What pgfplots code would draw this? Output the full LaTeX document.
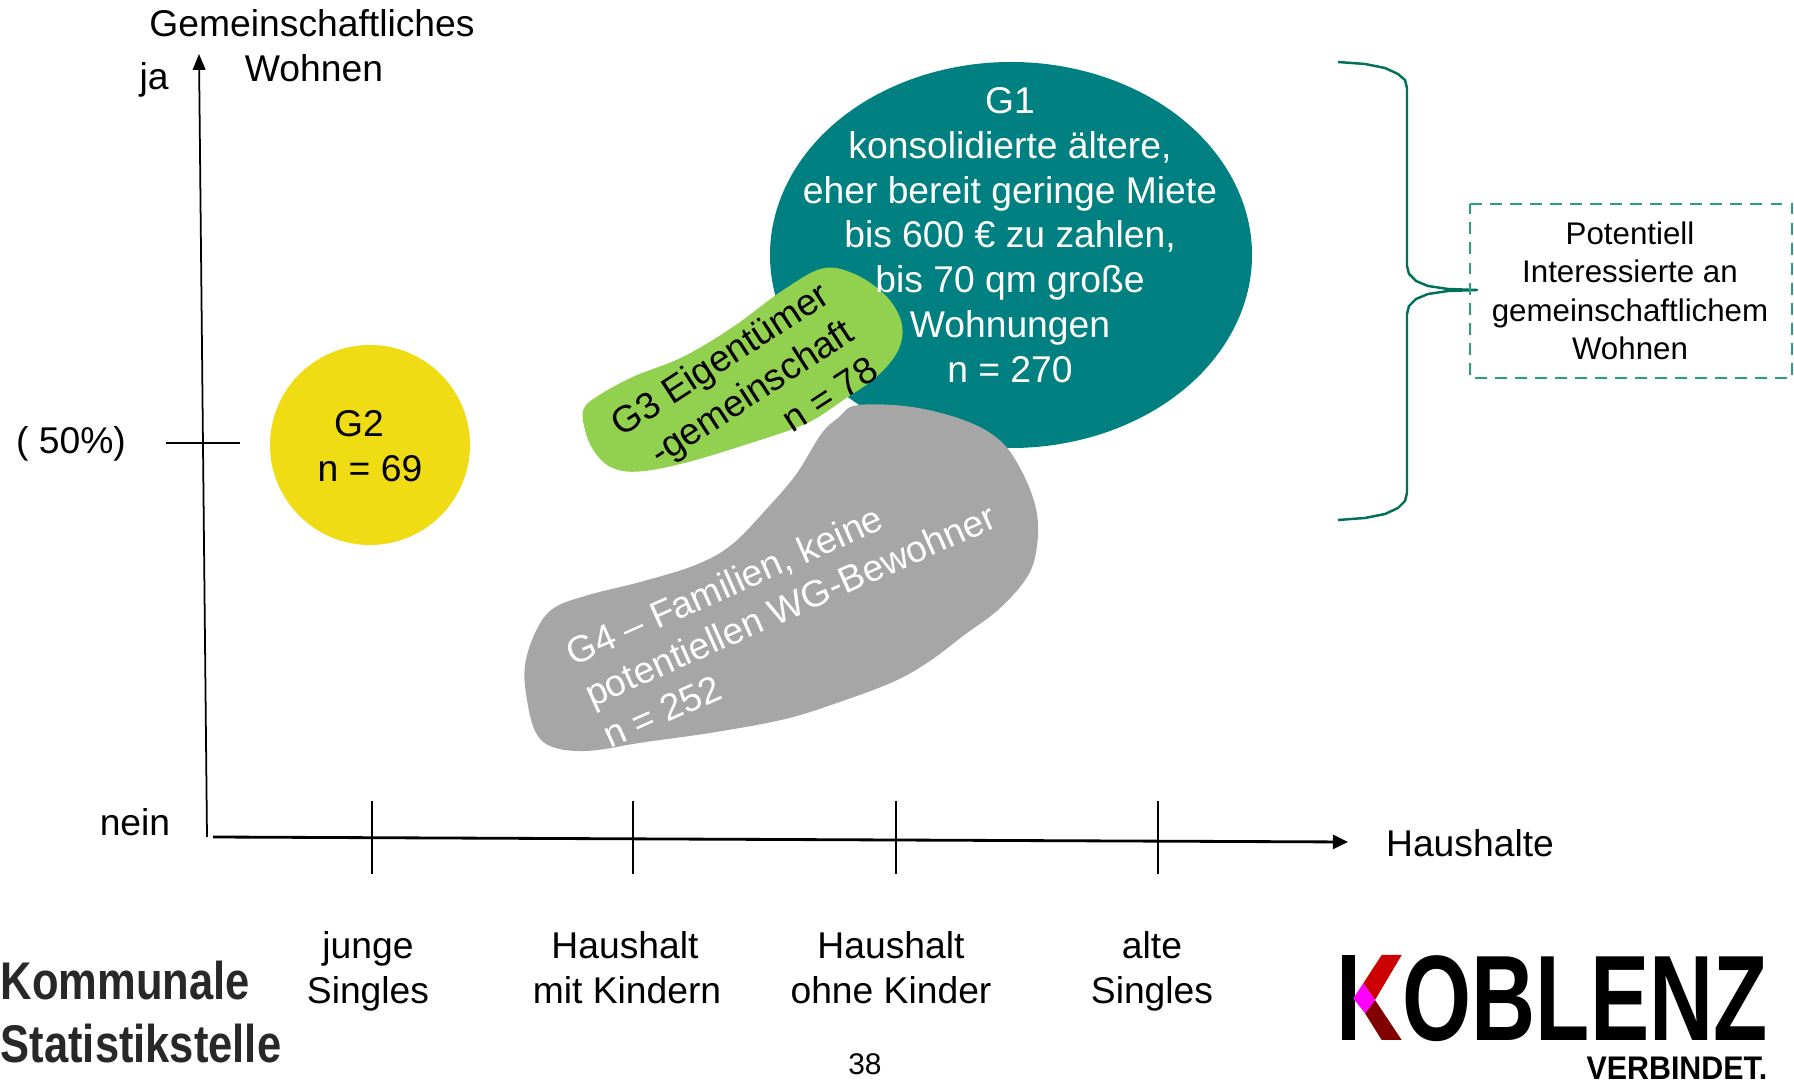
\documentclass[border=0pt]{standalone}
\usepackage{fontspec}
\setmainfont{Liberation Sans}
\newfontfamily\komfont[FakeStretch=0.82]{Liberation Sans}
\newfontfamily\kobfont[FakeStretch=0.73]{Liberation Sans}
\newfontfamily\verfont[FakeStretch=0.93]{Liberation Sans}
\usepackage{pgfplots}
\pgfplotsset{compat=1.18}
\usetikzlibrary{arrows.meta}
\definecolor{gteal}{RGB}{0,128,128}
\definecolor{ggreen}{RGB}{146,208,80}
\definecolor{ggrey}{RGB}{166,166,166}
\definecolor{gyellow}{RGB}{240,220,20}
\definecolor{bracecol}{RGB}{0,112,90}
\definecolor{boxcol}{RGB}{40,160,120}
\definecolor{kred}{RGB}{204,0,0}
\definecolor{kdred}{RGB}{128,0,0}
\definecolor{kpink}{RGB}{255,0,255}
\definecolor{komgray}{RGB}{40,40,40}
\newcommand\mf{\fontsize{10.6}{12.75}\selectfont}
\begin{document}
\begin{tikzpicture}
\begin{axis}[scale only axis, width=17.94cm, height=10.83cm,
  xmin=0, xmax=1794, ymin=0, ymax=1083, y dir=reverse,
  hide axis, clip=false]
% G1 teal ellipse
\addplot[fill=gteal, draw=none, smooth cycle, tension=0.62] coordinates {
 (1252,255)(1243.8,304.9)(1219.7,351.5)(1181.4,391.5)(1131.5,422.1)(1073.4,441.4)
 (1011,448)(948.6,441.4)(890.5,422.1)(840.6,391.5)(802.3,351.5)(778.2,304.9)
 (770,255)(778.2,205.1)(802.3,158.5)(840.6,118.5)(890.5,87.9)(948.6,68.6)
 (1011,62)(1073.4,68.6)(1131.5,87.9)(1181.4,118.5)(1219.7,158.5)(1243.8,205.1)};
% G2 yellow circle
\addplot[fill=gyellow, draw=none, smooth cycle, tension=0.62] coordinates {
 (470,445)(466.6,470.9)(456.6,495)(440.7,515.7)(420,531.6)(395.9,541.6)
 (370,545)(344.1,541.6)(320,531.6)(299.3,515.7)(283.4,495)(273.4,470.9)
 (270,445)(273.4,419.1)(283.4,395)(299.3,374.3)(320,358.4)(344.1,348.4)
 (370,345)(395.9,348.4)(420,358.4)(440.7,374.3)(456.6,395)(466.6,419.1)};
% G3 green blob
\addplot[fill=ggreen, draw=none, smooth cycle, tension=0.6] coordinates {
 (583.3,410)(596.7,396.7)(633.3,376.7)(683.3,356.7)(733.3,326.7)(783.3,290)
 (823.3,268.3)(856.7,275)(886.7,296.7)(901.7,323.3)(898.3,350)(876.7,376.7)
 (843.3,400)(806.7,423.3)(750,443.3)(683.3,463.3)(636.7,471.7)(610,466.7)
 (593.3,450)(585,430)};
% G4 grey blob
\addplot[fill=ggrey, draw=none, smooth cycle, tension=0.6] coordinates {
 (857.1,405.2)(910.7,406.8)(964.3,420.3)(1000,440.4)(1021.4,470.6)(1035.7,507.5)
 (1037.5,541.1)(1028.6,574.6)(1000,608.2)(964.3,635)(928.6,661.9)(892.9,682)
 (839.3,702.1)(785.7,718.9)(714.3,732.3)(642.9,742.4)(589.3,750.8)(553.6,747.4)
 (535.7,732.3)(526.8,698.8)(525,665.2)(535.7,631.7)(553.6,608.2)(589.3,594.8)
 (642.9,581.3)(696.4,564.6)(732.1,544.4)(767.9,507.5)(796.4,474)(821.4,433.7)
 (839.3,416.9)};
% axes
\addplot[black, line width=0.5pt, -{Triangle[width=3.6pt,length=4.5pt]}] coordinates {(207,837)(199,54)};
\addplot[black, line width=0.8pt, -{Triangle[width=4pt,length=4.3pt]}] coordinates {(213,837)(1348,842)};
% ticks
\addplot[black, line width=0.6pt] coordinates {(166,443)(240,443)};
\addplot[black, line width=0.5pt] coordinates {(372,801)(372,874)};
\addplot[black, line width=0.5pt] coordinates {(633,801)(633,874)};
\addplot[black, line width=0.5pt] coordinates {(896,801)(896,874)};
\addplot[black, line width=0.5pt] coordinates {(1158,801)(1158,874)};
% brace
\addplot[bracecol, line width=0.7pt, line join=round] coordinates {
 (1338,62)(1365,64)(1385,68)(1398,74)(1405,80)(1407,88)(1407,266)(1409,274)
 (1416,281)(1428,286)(1448,289)(1477,290)(1448,291)(1428,294)(1416,299)
 (1409,306)(1407,314)(1407,493)(1405,501)(1398,508)(1385,514)(1365,518)(1338,520)};
% dashed box
\addplot[boxcol, line width=0.6pt, dash pattern=on 3.4pt off 2.3pt] coordinates {
 (1470,204)(1792,204)(1792,378)(1470,378)(1470,204)};
% Koblenz K
\addplot[fill=black, draw=none] coordinates {(1342,955)(1355,955)(1355,1040)(1342,1040)};
\addplot[fill=kred, draw=none] coordinates {(1363.3,983.3)(1381.7,955)(1401.7,955)(1375,1000)};
\addplot[fill=kdred, draw=none] coordinates {(1365,1013.3)(1375,1000)(1401.7,1040)(1381.7,1040)};
\addplot[fill=kpink, draw=none] coordinates {(1353.3,998.3)(1363.3,983.3)(1375,1000)(1365,1013.3)};

% texts
\begin{scope}[every node/.style={inner sep=0pt, font=\mf}]
\node[anchor=base] at (axis cs:312,37) {Gemeinschaftliches};
\node[anchor=base] at (axis cs:314,82) {Wohnen};
\node[anchor=base] at (axis cs:154,90) {ja};
\node[anchor=base] at (axis cs:71,454) {( 50\%)};
\node[anchor=base] at (axis cs:135,836) {nein};
\node[anchor=base] at (axis cs:1470,857) {Haushalte};
\node[anchor=base] at (axis cs:368,959) {junge};
\node[anchor=base] at (axis cs:368,1004) {Singles};
\node[anchor=base] at (axis cs:625,959) {Haushalt};
\node[anchor=base] at (axis cs:627,1004) {mit Kindern};
\node[anchor=base] at (axis cs:891,959) {Haushalt};
\node[anchor=base] at (axis cs:891,1004) {ohne Kinder};
\node[anchor=base] at (axis cs:1152,959) {alte};
\node[anchor=base] at (axis cs:1152,1004) {Singles};
\node[anchor=base, font=\fontsize{8.5}{10}\selectfont] at (axis cs:865,1075) {38};
\node[anchor=base] at (axis cs:359,437) {G2};
\node[anchor=base] at (axis cs:370,482) {n = 69};
\node[align=center, text=white] at (axis cs:1010,235) {G1\\konsolidierte ältere,\\eher bereit geringe Miete\\bis 600 € zu zahlen,\\bis 70 qm große\\Wohnungen\\n = 270};
\node[align=right, rotate=33] at (axis cs:744,396) {G3 Eigentümer\\-gemeinschaft\\n = 78};
\node[align=left, rotate=24, text=white] at (axis cs:790,605) {G4 – Familien, keine\\potentiellen WG-Bewohner\\n = 252};
\node[align=center, font=\fontsize{8.9}{10.96}\selectfont] at (axis cs:1630,291) {Potentiell\\Interessierte an\\gemeinschaftlichem\\Wohnen};
\node[anchor=base west, font=\komfont\bfseries\fontsize{15.1}{18}\selectfont, text=komgray] at (axis cs:0,1000) {Kommunale};
\node[anchor=base west, font=\komfont\bfseries\fontsize{15.1}{18}\selectfont, text=komgray] at (axis cs:0,1063) {Statistikstelle};
\node[anchor=base west, font=\kobfont\bfseries\fontsize{34.6}{36}\selectfont] at (axis cs:1402,1041) {OBLENZ};
\node[anchor=base east, font=\verfont\bfseries\fontsize{9.3}{10}\selectfont] at (axis cs:1768,1080) {VERBINDET.};
\end{scope}
\end{axis}
\pgfresetboundingbox
\useasboundingbox (current axis.south west) rectangle (current axis.north east);
\end{tikzpicture}
\end{document}
